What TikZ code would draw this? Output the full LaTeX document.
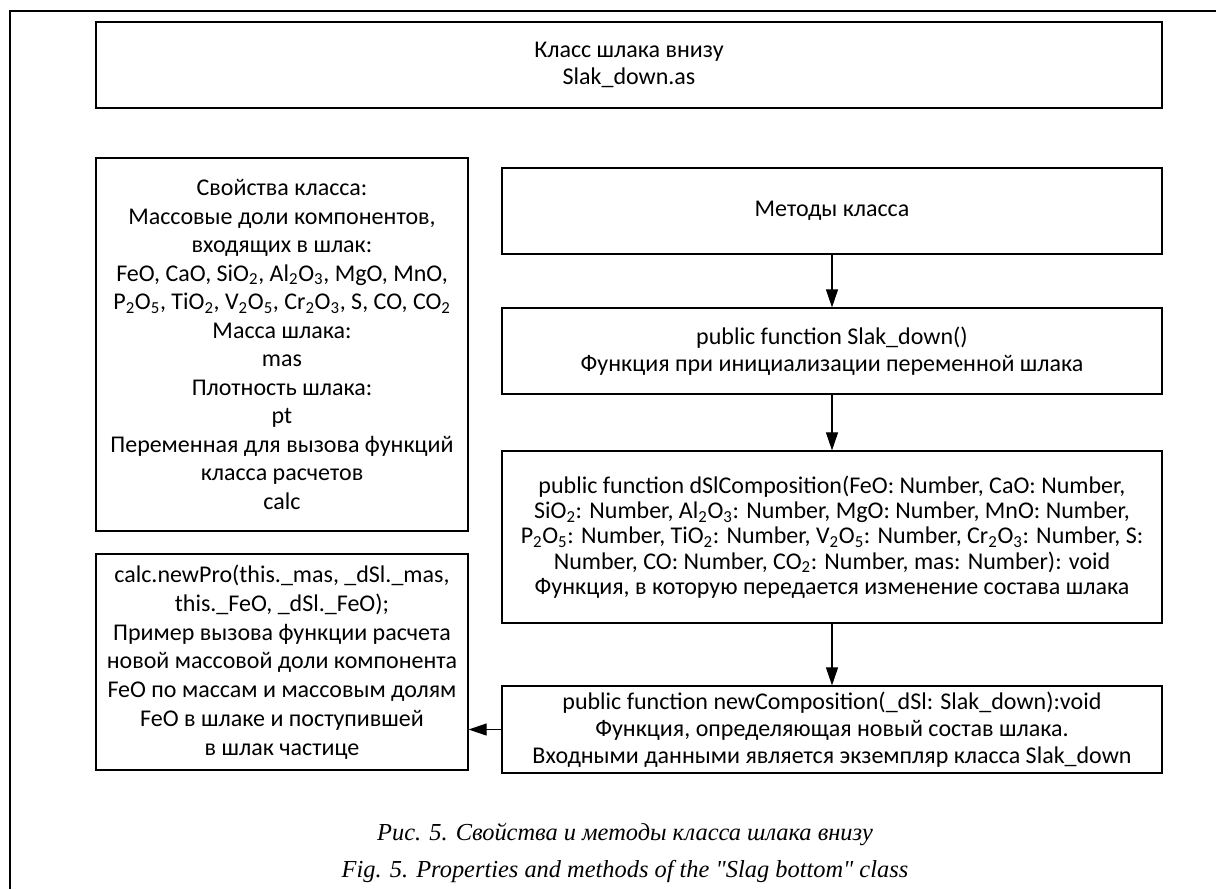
\documentclass[tikz,border=0pt]{standalone}
\usepackage{fontspec}
\setmainfont{Carlito}
\newfontfamily\capfont{Liberation Serif}
\usetikzlibrary{arrows.meta}
\newdimen\px \px=0.75pt
\newcommand{\sbs}[1]{\textsubscript{#1}}

\begin{document}
\begin{tikzpicture}[x=0.75pt, y=-0.75pt,
	box/.style={draw, line width=0.9pt, align=center, inner sep=0pt,
		font=\fontsize{18}{20.25}\selectfont},
	link/.style={-{Triangle[length=13.5pt,width=9pt]}, line width=0.8pt},
	caption/.style={font=\capfont\itshape\fontsize{18.3}{20}\selectfont}]
	\useasboundingbox (0,0) rectangle (1216,889);
	
	% outer frame
	\draw[line width=1pt] (10,889) -- (10,11) -- (1216,11);
	
	% class header
	\node[box, minimum width=1066\px, minimum height=86\px] (title) at (629,65) {Класс шлака внизу\\Slak\_down.as};
	
	% properties (left column)
	\node[box, minimum width=372\px, minimum height=373\px, font=\fontsize{18}{21.4}\selectfont] (props) at (282,344.5) {Свойства класса:\\Массовые доли компонентов,\\входящих в шлак:\\FeO, CaO, SiO\sbs{2}, Al\sbs{2}O\sbs{3}, MgO, MnO,\\P\sbs{2}O\sbs{5}, TiO\sbs{2}, V\sbs{2}O\sbs{5}, Cr\sbs{2}O\sbs{3}, S, CO, CO\sbs{2}\\Масса шлака:\\mas\\Плотность шлака:\\pt\\Переменная для вызова функций\\класса расчетов\\calc};
	
	\node[box, minimum width=372\px, minimum height=216\px, font=\fontsize{18}{21.6}\selectfont] (calc) at (282,662) {calc.newPro(this.\_mas, \_dSl.\_mas,\\this.\_FeO, \_dSl.\_FeO);\\Пример вызова функции расчета\\новой массовой доли компонента\\FeO по массам и массовым долям\\FeO в шлаке и поступившей\\в шлак частице};
	
	% methods (right column)
	\node[box, minimum width=660\px, minimum height=86\px] (methods) at (832,211) {Методы класса};
	
	\node[box, minimum width=660\px, minimum height=86\px] (init) at (832,351) {public function Slak\_down()\\Функция при инициализации переменной шлака};
	
	\node[box, minimum width=660\px, minimum height=172\px, font=\fontsize{18}{18.9}\selectfont] (dsl) at (832,537) {public function dSlComposition(FeO: Number, CaO: Number,\\SiO\sbs{2}: Number, Al\sbs{2}O\sbs{3}: Number, MgO: Number, MnO: Number,\\P\sbs{2}O\sbs{5}: Number, TiO\sbs{2}: Number, V\sbs{2}O\sbs{5}: Number, Cr\sbs{2}O\sbs{3}: Number, S:\\Number, CO: Number, CO\sbs{2}: Number, mas: Number): void\\Функция, в которую передается изменение состава шлака};
	
	\node[box, minimum width=660\px, minimum height=87\px] (newc) at (832,729.5) {public function newComposition(\_dSl: Slak\_down):void\\Функция, определяющая новый состав шлака.\\Входными данными является экземпляр класса Slak\_down};
	
	% arrows
	\draw[link] (methods) -- (init);
	\draw[link] (init) -- (dsl);
	\draw[link] (dsl) -- (newc);
	\draw[link] (newc.west) -- (newc.west -| calc.east);
	
	% captions
	\node[caption] (capru) at (625,834) {Рис. 5. Свойства и методы класса шлака внизу};
	\node[caption] (capen) at (625,871) {Fig. 5. Properties and methods of the "Slag bottom" class};
\end{tikzpicture}
\end{document}
